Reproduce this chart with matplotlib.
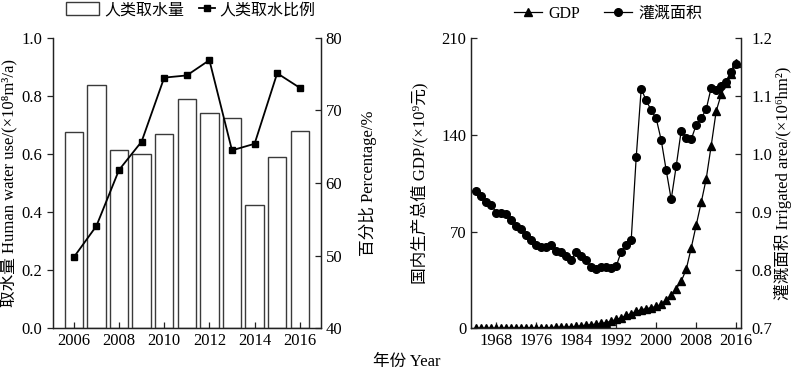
import numpy as np
import matplotlib
matplotlib.use('Agg')
from matplotlib import pyplot as plt

plt.rcParams['font.family'] = ['Liberation Serif', 'Noto Sans CJK SC', 'DejaVu Serif']
plt.rcParams['axes.unicode_minus'] = False

# left panel: human water use
years = [2006, 2007, 2008, 2009, 2010, 2011, 2012, 2013, 2014, 2015, 2016]
water_use = [0.677, 0.836, 0.615, 0.601, 0.668, 0.789, 0.741, 0.724, 0.425, 0.590, 0.678]
water_pct = [49.8, 54.1, 61.8, 65.7, 74.5, 74.8, 76.9, 64.5, 65.4, 75.1, 73.1]

# right panel: GDP and irrigated area
gdp_years = list(range(1964, 2017))
gdp = [0.3, 0.3, 0.3, 0.3, 0.3, 0.3, 0.4, 0.4, 0.4, 0.4, 0.5, 0.5,
       0.5, 0.6, 0.6, 0.7, 0.8, 0.9, 1.0, 1.2, 1.5, 2.0, 2.4, 2.8, 3.1,
       3.6, 4.3, 5.3, 6.5, 7.7, 9.4, 10.6, 12.3, 13.5, 14.3, 15.0, 15.9,
       17.4, 20.8, 23.9, 28.7, 34.0, 42.7, 58.1, 74.6, 91.0, 108.0, 132.0,
       157.0, 169.0, 177.0, 184.0, 192.0]
irrigated = [0.936, 0.928, 0.917, 0.913, 0.899, 0.898, 0.896, 0.887, 0.877,
             0.871, 0.860, 0.852, 0.843, 0.840, 0.840, 0.844, 0.834, 0.831,
             0.825, 0.818, 0.831, 0.824, 0.817, 0.806, 0.803, 0.806, 0.805,
             0.804, 0.807, 0.832, 0.844, 0.852, 0.994, 1.112, 1.092, 1.075,
             1.061, 1.024, 0.972, 0.922, 0.979, 1.040, 1.028, 1.025, 1.050,
             1.061, 1.077, 1.114, 1.110, 1.117, 1.123, 1.141, 1.155]

fs_tick = 12
fs_lab = 12
fs_leg = 11.5

fig = plt.figure(figsize=(8, 3.71), dpi=100)

ax1 = fig.add_axes([0.066, 0.1146, 0.335, 0.784])
ax2 = ax1.twinx()
bars = ax1.bar(years, water_use, width=0.82, color='white', edgecolor='#3a3a3a', linewidth=1.0, zorder=1)
line, = ax2.plot(years, water_pct, color='black', marker='s', ms=5, lw=1.3)
ax1.set_xlim(2005.07, 2016.93)
ax1.set_ylim(0, 1.0)
ax2.set_ylim(40, 80)
ax1.set_xticks([2006, 2008, 2010, 2012, 2014, 2016])
ax1.set_yticks(np.arange(0, 1.01, 0.2))
ax1.set_yticklabels(['{:.1f}'.format(v) for v in np.arange(0, 1.01, 0.2)])
ax2.set_yticks([40, 50, 60, 70, 80])
ax1.set_ylabel('取水量 Human water use/(×10⁸m³/a)', fontsize=fs_lab, labelpad=3)
ax2.set_ylabel('百分比 Percentage/%', fontsize=fs_lab, labelpad=12)

ax3 = fig.add_axes([0.589, 0.1146, 0.3375, 0.784])
ax4 = ax3.twinx()
l_gdp, = ax3.plot(gdp_years, gdp, color='black', marker='^', ms=5.5, lw=0.9)
l_irr, = ax4.plot(gdp_years, irrigated, color='black', marker='o', ms=5.5, lw=0.9)
ax3.set_xlim(1963, 2017)
ax3.set_ylim(0, 210)
ax4.set_ylim(0.7, 1.2)
ax3.set_xticks(range(1968, 2017, 8))
ax3.set_yticks([0, 70, 140, 210])
ax4.set_yticks([0.7, 0.8, 0.9, 1.0, 1.1, 1.2])
ax4.set_yticklabels(['0.7', '0.8', '0.9', '1.0', '1.1', '1.2'])
ax3.set_ylabel('国内生产总值 GDP/(×10⁹元)', fontsize=fs_lab, labelpad=9)
ax4.set_ylabel('灌溉面积 Irrigated area/(×10⁶hm²)', fontsize=fs_lab, labelpad=1)

for ax in [ax1, ax2, ax3, ax4]:
    ax.spines['top'].set_visible(False)
    for s in ax.spines.values():
        s.set_color('#222222')
        s.set_linewidth(0.9)
    ax.tick_params(labelsize=fs_tick, direction='in', length=4, width=0.9, colors='#222222', labelcolor='black')
ax1.tick_params(axis='y', direction='out')
ax4.tick_params(axis='y', pad=7.5)

# legends
fig.legend([bars], ['人类取水量'], loc='center left', bbox_to_anchor=(66 / 800, 1 - 10 / 371),
           frameon=False, handlelength=2.05, handleheight=0.87, handletextpad=0.35,
           borderpad=0, borderaxespad=0, fontsize=fs_leg)
fig.legend([line], ['人类取水比例'], loc='center left', bbox_to_anchor=(199 / 800, 1 - 10 / 371),
           frameon=False, handlelength=1.0, handletextpad=0.3,
           borderpad=0, borderaxespad=0, fontsize=fs_leg)
fig.legend([l_gdp, l_irr], ['GDP', '灌溉面积'], loc='center left', bbox_to_anchor=(514 / 800, 1 - 14 / 371),
           ncol=2, frameon=False, handlelength=1.75, handletextpad=0.4, columnspacing=1.5,
           borderpad=0, borderaxespad=0, fontsize=fs_leg)

fig.text(407 / 800, 1 - 362 / 371, '年份 Year', ha='center', va='center', fontsize=fs_lab)

fig.savefig('out.png', dpi=100)
